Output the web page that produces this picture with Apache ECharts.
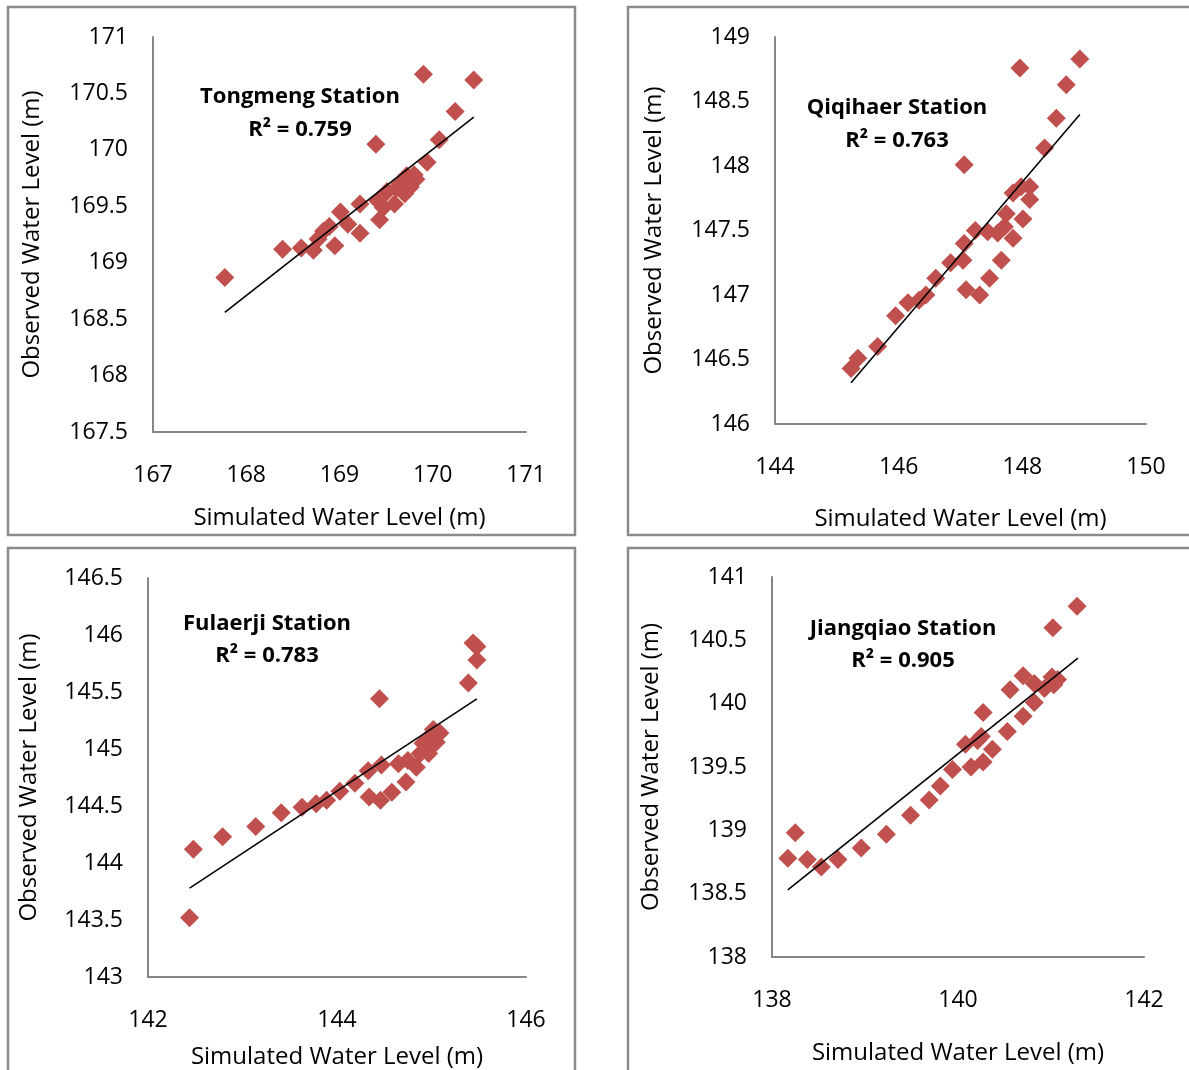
<!DOCTYPE html>
<html>
<head>
<meta charset="utf-8">
<script src="https://cdn.jsdelivr.net/npm/echarts@6/dist/echarts.min.js"></script>
<style>
html,body{margin:0;padding:0;background:#fff;}
#chart{width:1189px;height:1070px;}
</style>
</head>
<body>
<div id="chart"></div>
<script>
// ---- Data ----
const stationNames = ["Tongmeng Station", "Qiqihaer Station", "Fulaerji Station", "Jiangqiao Station"];
const r2Labels = ["R² = 0.759", "R² = 0.763", "R² = 0.783", "R² = 0.905"];

const tongmengSim = [167.77,168.39,168.59,168.72,168.77,168.83,168.89,168.95,169.01,169.09,169.22,169.22,169.39,169.43,169.41,169.47,169.51,169.59,169.61,169.65,169.70,169.72,169.76,169.80,169.82,169.94,169.90,170.07,170.24,170.44];
const tongmengObs = [168.87,169.12,169.13,169.11,169.21,169.28,169.32,169.15,169.45,169.34,169.26,169.52,170.05,169.38,169.55,169.49,169.63,169.52,169.66,169.70,169.61,169.77,169.67,169.78,169.74,169.89,170.67,170.09,170.34,170.62];
const tongmengTrendX = [167.77, 170.44];
const tongmengTrendY = [168.56, 170.29];

const qiqihaerSim = [145.23,145.34,145.66,145.95,146.15,146.33,146.44,146.60,146.84,147.04,147.06,147.09,147.06,147.31,147.24,147.47,147.44,147.66,147.60,147.71,147.74,147.85,147.85,147.96,148.01,147.98,148.12,148.12,148.36,148.55,148.71,148.93];
const qiqihaerObs = [146.43,146.51,146.60,146.84,146.94,146.96,147.00,147.13,147.25,147.27,147.40,147.04,148.01,147.00,147.50,147.13,147.49,147.27,147.48,147.53,147.63,147.44,147.79,148.76,147.59,147.84,147.84,147.74,148.14,148.37,148.63,148.83];
const qiqihaerTrendX = [145.23, 148.93];
const qiqihaerTrendY = [146.32, 148.40];

const fulaerjiSim = [142.44,142.48,142.79,143.14,143.41,143.63,143.78,143.89,144.03,144.19,144.34,144.33,144.46,144.45,144.47,144.58,144.65,144.73,144.75,144.84,144.88,144.91,144.97,144.98,145.02,145.05,145.09,145.39,145.44,145.48,145.48];
const fulaerjiObs = [143.52,144.12,144.23,144.32,144.44,144.49,144.52,144.55,144.63,144.70,144.58,144.81,144.55,145.44,144.86,144.62,144.87,144.71,144.90,144.84,144.96,145.05,144.96,145.11,145.17,145.06,145.14,145.58,145.93,145.90,145.78];
const fulaerjiTrendX = [142.44, 145.48];
const fulaerjiTrendY = [143.78, 145.44];

const jiangqiaoSim = [138.17,138.25,138.38,138.53,138.71,138.96,139.23,139.49,139.69,139.81,139.94,140.08,140.14,140.21,140.25,140.27,140.27,140.37,140.53,140.56,140.70,140.70,140.82,140.82,140.93,141.01,141.03,141.07,141.02,141.28];
const jiangqiaoObs = [138.78,138.98,138.77,138.71,138.77,138.86,138.97,139.12,139.24,139.35,139.48,139.68,139.50,139.71,139.74,139.54,139.93,139.64,139.78,140.11,139.90,140.22,140.01,140.16,140.12,140.21,140.15,140.19,140.60,140.77];
const jiangqiaoTrendX = [138.17, 141.29];
const jiangqiaoTrendY = [138.53, 140.36];

// axis ranges (tick labels)
const xMins = [167, 144, 142, 138];
const xMaxs = [171, 150, 146, 142];
const xSteps = [1, 2, 2, 2];
const yMins = [167.5, 146, 143, 138];
const yMaxs = [171, 149, 146.5, 141];
const ySteps = [0.5, 0.5, 0.5, 0.5];

const xName = "Simulated Water Level (m)";
const yName = "Observed Water Level (m)";

// ---- Layout ----
const FONT = "Open Sans";
const grids = [
  {left:153, top:37, width:373, height:395},
  {left:775, top:37, width:371, height:387},
  {left:148, top:578, width:378, height:401},
  {left:772, top:577, width:372, height:380}
];
const xNameGaps = [74, 83, 68, 84];
const yNameGaps = [109, 109, 107, 109];
const titlePos = [
  {x:300, y1:97, y2:130},
  {x:897, y1:108, y2:141},
  {x:267, y1:624, y2:656},
  {x:903, y1:629, y2:661}
];
const panels = [
  {x:8, y:7, w:567, h:528},
  {x:628, y:7, w:600, h:528},
  {x:8, y:548, w:567, h:560},
  {x:628, y:548, w:600, h:560}
];

const sims = [tongmengSim, qiqihaerSim, fulaerjiSim, jiangqiaoSim];
const obss = [tongmengObs, qiqihaerObs, fulaerjiObs, jiangqiaoObs];
const trendXs = [tongmengTrendX, qiqihaerTrendX, fulaerjiTrendX, jiangqiaoTrendX];
const trendYs = [tongmengTrendY, qiqihaerTrendY, fulaerjiTrendY, jiangqiaoTrendY];

const zip = (a, b) => a.map((v, i) => [v, b[i]]);

const axisLineStyle = {show:true, onZero:false, lineStyle:{color:'#868686', width:2}};
const labelStyle = {color:'#000', fontFamily:FONT, fontSize:23};
const nameStyle = {color:'#000', fontFamily:FONT, fontSize:24};

const option = {
  backgroundColor:'#fff',
  animation:false,
  grid: grids.map(g => Object.assign({containLabel:false}, g)),
  xAxis: grids.map((g, i) => ({
    gridIndex:i, type:'value', min:xMins[i], max:xMaxs[i], interval:xSteps[i],
    axisLine:axisLineStyle, axisTick:{show:false}, splitLine:{show:false},
    axisLabel:Object.assign({margin:32}, labelStyle),
    name:xName, nameLocation:'middle', nameGap:xNameGaps[i], nameTextStyle:nameStyle
  })),
  yAxis: grids.map((g, i) => ({
    gridIndex:i, type:'value', min:yMins[i], max:yMaxs[i], interval:ySteps[i],
    axisLine:axisLineStyle, axisTick:{show:false}, splitLine:{show:false},
    axisLabel:Object.assign({margin:25, padding:[3,0,0,0]}, labelStyle),
    name:yName, nameLocation:'middle', nameGap:yNameGaps[i], nameTextStyle:nameStyle
  })),
  series: [].concat(...grids.map((g, i) => [
    {
      type:'scatter', xAxisIndex:i, yAxisIndex:i, symbol:'diamond', symbolSize:19,
      itemStyle:{color:'#C0504D', opacity:1}, data:zip(sims[i], obss[i]), z:2
    },
    {
      type:'line', xAxisIndex:i, yAxisIndex:i, showSymbol:false, symbol:'none',
      lineStyle:{color:'#000', width:1.6}, data:zip(trendXs[i], trendYs[i]), z:3
    }
  ])),
  graphic: [].concat(
    panels.map(p => ({
      type:'rect', shape:{x:p.x, y:p.y, width:p.w, height:p.h},
      style:{fill:'none', stroke:'#8a8a8a', lineWidth:2.5}, silent:true, z:-1
    })),
    ...titlePos.map((t, i) => [
      {type:'text', x:t.x, y:t.y1, style:{text:stationNames[i], fontFamily:FONT, fontWeight:'bold', fontSize:22, fill:'#000', align:'center', verticalAlign:'middle'}, z:10},
      {type:'text', x:t.x, y:t.y2, style:{text:r2Labels[i], fontFamily:FONT, fontWeight:'bold', fontSize:22, fill:'#000', align:'center', verticalAlign:'middle'}, z:10}
    ])
  )
};

const chart = echarts.init(document.getElementById('chart'), null, {renderer:'canvas'});
chart.setOption(option);
</script>
</body>
</html>
